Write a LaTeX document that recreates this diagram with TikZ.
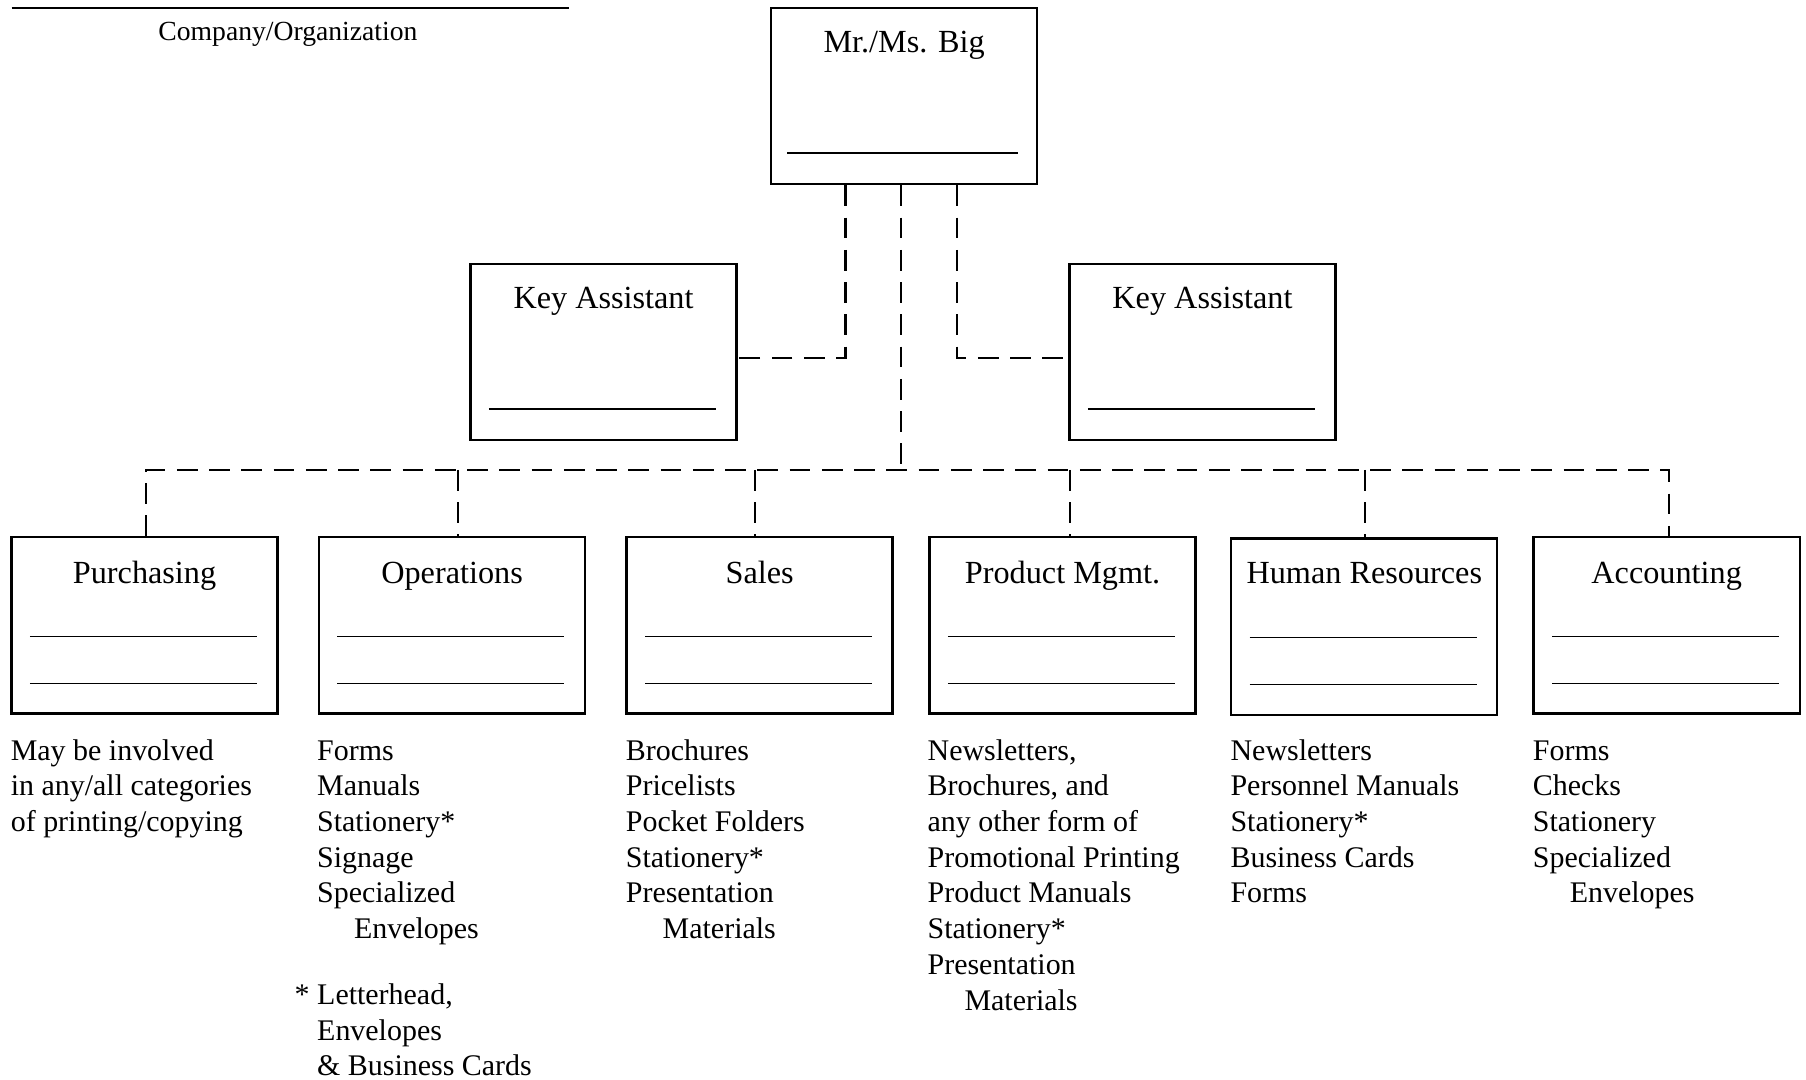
\documentclass[tikz,border=0pt]{standalone}
\usepackage{fontspec}
\setmainfont{Liberation Serif}
\usetikzlibrary{positioning,calc}

\begin{document}
\begin{tikzpicture}[x=0.5pt, y=-0.5pt,
  box/.style={draw, line width=1pt, minimum width=115.5pt, minimum height=76.5pt, inner sep=0pt},
  title/.style={font=\fontsize{14}{15.5}\selectfont, anchor=base, inner sep=0pt},
  blank/.style={line width=0.6pt, black},
  link/.style={line width=1pt, dash pattern=on 9pt off 5pt},
  items/.style={font=\fontsize{13}{15.5}\selectfont, align=left, anchor=north west, inner sep=0pt}]
  \useasboundingbox (0,0) rectangle (1568,937);
  % Company line
  \draw[line width=1.1pt] (10,7) -- (494,7);
  \node[font=\fontsize{12}{14}\selectfont, anchor=base, inner sep=0pt] (org) at (250,35) {Company/Organization};
  % Top box
  \node[box] (big) at (785,83.5) {};
  \node[title] (bigt) at ($(big.north)+(0,40)$) {Mr./Ms. Big};
  \draw[blank] ($(big.north west)+(15,127)$) -- ($(big.north east)+(-18,127)$);
  % Key assistants
  \node[box] (kal) at (524,305.5) {};
  \node[title] (kalt) at ($(kal.north)+(0,40)$) {Key Assistant};
  \draw[blank] ($(kal.north west)+(17,127)$) -- ($(kal.north east)+(-19,127)$);
  \node[box] (kar) at (1044,305.5) {};
  \node[title] (kart) at ($(kar.north)+(0,40)$) {Key Assistant};
  \draw[blank] ($(kar.north west)+(17,127)$) -- ($(kar.north east)+(-19,127)$);
  % Departments
  \node[box] (pur) at (125.5,543) {};
  \node[box] (ops) at (392.5,543) {};
  \node[box] (sal) at (659.5,543) {};
  \node[box] (prd) at (922.5,543) {};
  \node[box] (hrs) at (1184.5,544) {};
  \node[box] (acc) at (1447,543) {};
  \node[title] at ($(pur.north)+(0,41)$) {Purchasing};
  \node[title] at ($(ops.north)+(0,41)$) {Operations};
  \node[title] at ($(sal.north)+(0,41)$) {Sales};
  \node[title] at ($(prd.north)+(0,41)$) {Product Mgmt.};
  \node[title] at ($(hrs.north)+(0,40)$) {Human Resources};
  \node[title] at ($(acc.north)+(0,41)$) {Accounting};
  \foreach \d in {pur,ops,sal,prd,hrs,acc} {
    \draw[blank] ($(\d.north west)+(17,87)$) -- ($(\d.north east)+(-19,87)$);
    \draw[blank] ($(\d.north west)+(17,128)$) -- ($(\d.north east)+(-19,128)$);
  }
  % Connectors
  \coordinate (bus) at (782,408);
  \draw[link] ($(big.south)+(-51,0)$) |- ($(kal.east)+(0,5.5)$);
  \draw[link] ($(big.south)+(46,0)$) |- ($(kar.west)+(0,5.5)$);
  \draw[link] ($(big.south)+(-3,0)$) -- (bus);
  \draw[link] ([xshift=0.75pt]pur.north) |- (bus) -| ([xshift=1pt]acc.north);
  \draw[link] ([xshift=2.5pt]ops.north |- bus) -- ([xshift=2.5pt]ops.north);
  \draw[link] ([xshift=-2pt]sal.north |- bus) -- ([xshift=-2pt]sal.north);
  \draw[link] ([xshift=3.25pt]prd.north |- bus) -- ([xshift=3.25pt]prd.north);
  \draw[link] ([xshift=0.25pt]hrs.north |- bus) -- ([xshift=0.25pt]hrs.north);
  % Printing lists
  \node[items] (purl) at ($(pur.south west)+(0,21)$) {May be involved\\in any/all categories\\of printing/copying};
  \node[items] (opsl) at ($(ops.south west)+(-1,22)$) {Forms\\Manuals\\Stationery*\\Signage\\Specialized\\\hspace*{16pt}Envelopes};
  \node[items] (opsn) at ($(ops.south west)+(-1,233)$) {\leavevmode\llap{*\ }Letterhead,\\Envelopes\\\& Business Cards};
  \node[items] (sall) at ($(sal.south west)+(0,21)$) {Brochures\\Pricelists\\Pocket Folders\\Stationery*\\Presentation\\\hspace*{16pt}Materials};
  \node[items] (prdl) at ($(prd.south west)+(-1,21)$) {Newsletters,\\Brochures, and\\any other form of\\Promotional Printing\\Product Manuals\\Stationery*\\Presentation\\\hspace*{16pt}Materials};
  \node[items] (hrsl) at ($(hrs.south west)+(0,20)$) {Newsletters\\Personnel Manuals\\Stationery*\\Business Cards\\Forms};
  \node[items] (accl) at ($(acc.south west)+(0,22)$) {Forms\\Checks\\Stationery\\Specialized\\\hspace*{16pt}Envelopes};
\end{tikzpicture}
\end{document}
